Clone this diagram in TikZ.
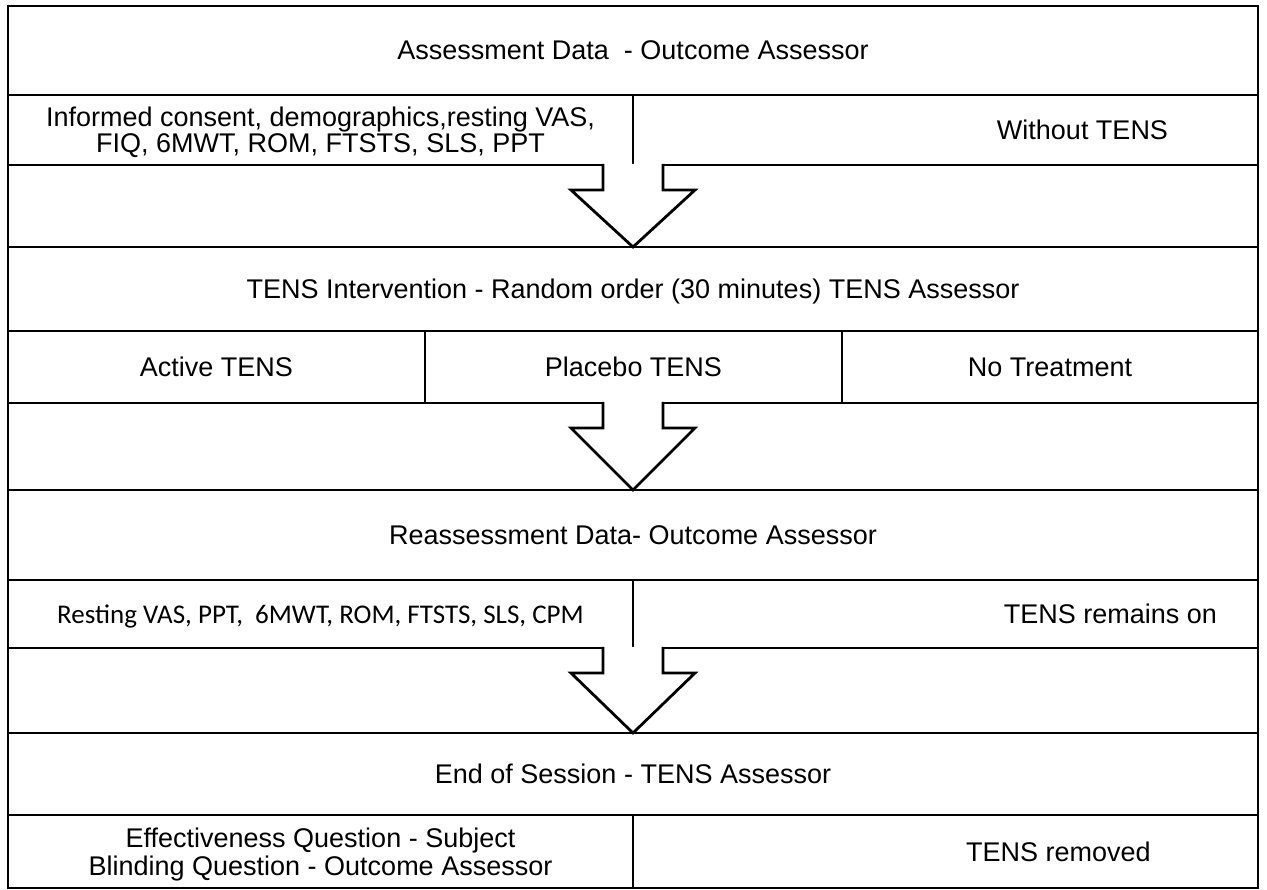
\documentclass[tikz,border=0pt]{standalone}
\usepackage{fontspec}
\setmainfont{Liberation Sans}
\newfontfamily\calibri{Carlito}
\usetikzlibrary{positioning}

\begin{document}
\begin{tikzpicture}[
    x=1pt, y=1pt,
    cell/.style 2 args={rectangle, draw=black, line width=2.4pt, outer sep=0pt, inner sep=0pt, minimum width=#1, minimum height=#2, text=black, text depth=0pt, font=\fontsize{27}{26}\selectfont, align=center},
    side/.style={font=\fontsize{27}{26}\selectfont, text=black, text depth=0pt},
    hollow/.style={draw=black, fill=white, line width=2.8pt, line join=miter}
]
    \useasboundingbox (0,0) rectangle (1267,-890);

    \node[cell={1250pt}{89pt}, anchor=north west] (ttlA) at (8,-6) {Assessment Data\ \ - Outcome Assessor};
    \node[cell={625pt}{70pt}, below right=0pt and 0pt of ttlA.south west] (consentA) {Informed consent, demographics,resting VAS,\\FIQ, 6MWT, ROM, FTSTS, SLS, PPT};
    \node[cell={625pt}{70pt}, right=0pt of consentA, label={[side, xshift=137pt]center:Without TENS}] (noTensA) {};
    \node[cell={1250pt}{82pt}, below right=0pt and 0pt of consentA.south west] (gapA) {};

    \node[cell={1250pt}{84pt}, below=0pt of gapA] (ttlB) {TENS Intervention - Random order (30 minutes) TENS Assessor};
    \node[cell={417pt}{72pt}, below right=0pt and 0pt of ttlB.south west] (activeB) {Active TENS};
    \node[cell={417pt}{72pt}, right=0pt of activeB] (placeboB) {Placebo TENS};
    \node[cell={416pt}{72pt}, right=0pt of placeboB] (noTreatB) {No Treatment};
    \node[cell={1250pt}{87pt}, below right=0pt and 0pt of activeB.south west] (gapB) {};

    \node[cell={1250pt}{90pt}, below=0pt of gapB] (ttlC) {Reassessment Data- Outcome Assessor};
    \node[cell={625pt}{68pt}, below right=0pt and 0pt of ttlC.south west, font=\calibri\fontsize{27}{27}\selectfont] (restC) {Resting VAS, PPT,\ \ 6MWT, ROM, FTSTS, SLS, CPM};
    \node[cell={625pt}{68pt}, right=0pt of restC, label={[side, xshift=165pt]center:TENS remains on}] (remainC) {};
    \node[cell={1250pt}{85pt}, below right=0pt and 0pt of restC.south west] (gapC) {};

    \node[cell={1250pt}{82pt}, below=0pt of gapC] (ttlD) {End of Session - TENS Assessor};
    \node[cell={625pt}{73pt}, below right=0pt and 0pt of ttlD.south west, font=\fontsize{27}{28}\selectfont] (questD) {Effectiveness Question - Subject\\Blinding Question - Outcome Assessor};
    \node[cell={625pt}{73pt}, right=0pt of questD, label={[side, xshift=113pt]center:TENS removed}] (removedD) {};

    % hollow block arrows between the stages
    \draw[hollow] ([xshift=-30pt,yshift=1.2pt]gapA.north) -- ([xshift=-30pt,yshift=-25pt]gapA.north) -- ([xshift=-62pt,yshift=-25pt]gapA.north) -- (gapA.south) -- ([xshift=62pt,yshift=-25pt]gapA.north) -- ([xshift=30pt,yshift=-25pt]gapA.north) -- ([xshift=30pt,yshift=1.2pt]gapA.north);
    \draw[hollow] ([xshift=-30pt,yshift=1.2pt]gapB.north) -- ([xshift=-30pt,yshift=-25pt]gapB.north) -- ([xshift=-62pt,yshift=-25pt]gapB.north) -- (gapB.south) -- ([xshift=62pt,yshift=-25pt]gapB.north) -- ([xshift=30pt,yshift=-25pt]gapB.north) -- ([xshift=30pt,yshift=1.2pt]gapB.north);
    \draw[hollow] ([xshift=-30pt,yshift=1.2pt]gapC.north) -- ([xshift=-30pt,yshift=-25pt]gapC.north) -- ([xshift=-62pt,yshift=-25pt]gapC.north) -- (gapC.south) -- ([xshift=62pt,yshift=-25pt]gapC.north) -- ([xshift=30pt,yshift=-25pt]gapC.north) -- ([xshift=30pt,yshift=1.2pt]gapC.north);
\end{tikzpicture}
\end{document}
